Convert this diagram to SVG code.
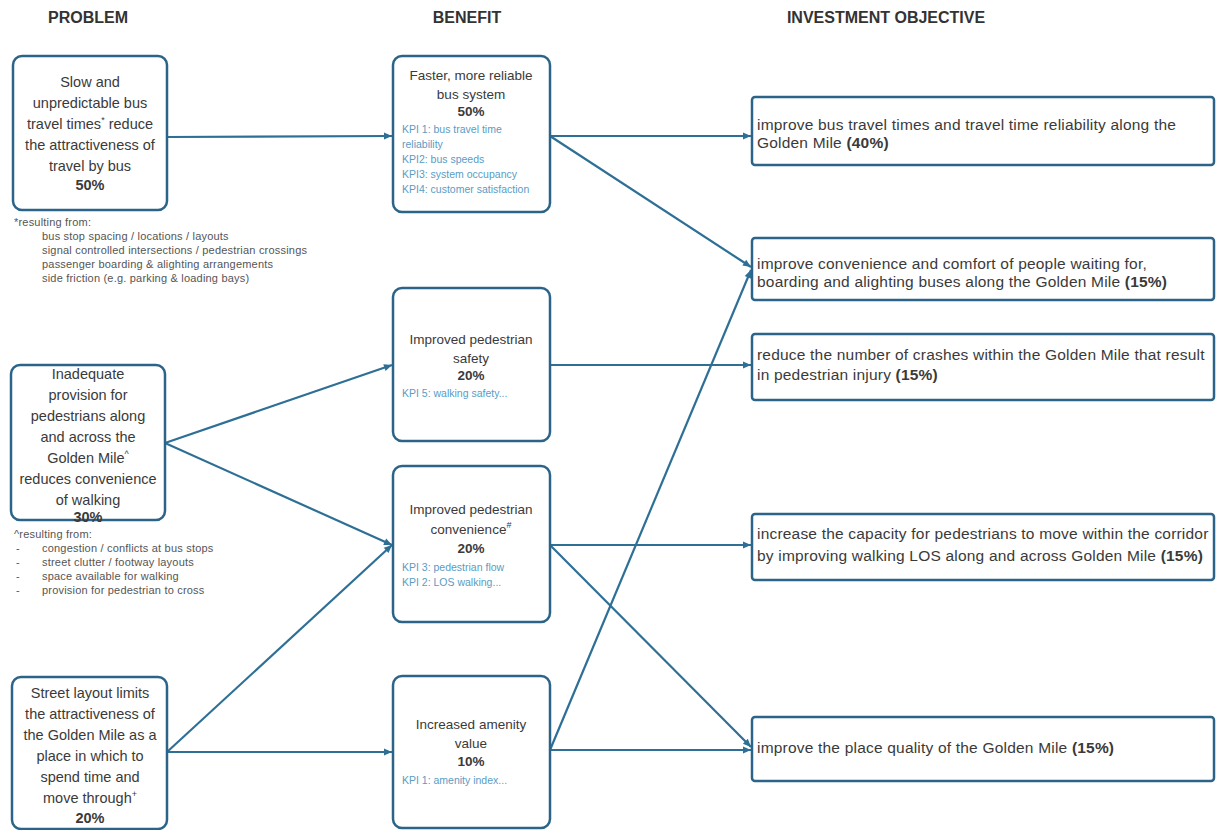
<svg xmlns="http://www.w3.org/2000/svg" width="1220" height="830" viewBox="0 0 1220 830">
<defs>
<marker id="ah" markerUnits="userSpaceOnUse" markerWidth="10" markerHeight="10" viewBox="0 0 10 10" refX="9" refY="5" orient="auto">
<path d="M1,1.5 L9,5 L1,8.5 Z" fill="#2e6f96"/>
</marker>
<style>
.hd{font-family:"Liberation Sans",Arial,sans-serif;font-weight:bold;font-size:16px;fill:#333;}
.box{fill:#fff;stroke:#2b6488;stroke-width:2.5;}
.t{font-family:"Liberation Sans",Arial,sans-serif;font-size:14.5px;fill:#3a3a3a;text-anchor:middle;}
.tb{font-family:"Liberation Sans",Arial,sans-serif;font-size:13.5px;fill:#3a3a3a;text-anchor:middle;}
.b{font-weight:bold;}
.k{font-family:"Liberation Sans",Arial,sans-serif;font-size:10.5px;fill:#5a9cc4;}
.fn{font-family:"Liberation Sans",Arial,sans-serif;font-size:11px;letter-spacing:0.2px;fill:#555;}
.o{font-family:"Liberation Sans",Arial,sans-serif;font-size:15.5px;letter-spacing:0.2px;fill:#3a3a3a;}
.c{fill:none;stroke:#2e6f96;stroke-width:2.2;marker-end:url(#ah);}
.sup{font-size:9px;}
</style>
</defs>
<rect width="1220" height="830" fill="#fff"/>

<g id="headers">
<text class="hd" x="88" y="23" text-anchor="middle">PROBLEM</text>
<text class="hd" x="467" y="23" text-anchor="middle">BENEFIT</text>
<text class="hd" x="886" y="23" text-anchor="middle">INVESTMENT OBJECTIVE</text>
</g>

<g id="connectors">
<line class="c" x1="167" y1="137" x2="392" y2="136"/>
<line class="c" x1="550" y1="136" x2="751" y2="136"/>
<line class="c" x1="550" y1="136" x2="751" y2="267"/>
<line class="c" x1="165" y1="443" x2="392" y2="365"/>
<line class="c" x1="165" y1="443" x2="392" y2="545"/>
<line class="c" x1="167" y1="752" x2="392" y2="545"/>
<line class="c" x1="167" y1="752" x2="392" y2="752"/>
<line class="c" x1="550" y1="365" x2="751" y2="365"/>
<line class="c" x1="550" y1="545" x2="751" y2="545"/>
<line class="c" x1="550" y1="545" x2="751" y2="747"/>
<line class="c" x1="550" y1="750" x2="751" y2="270"/>
<line class="c" x1="550" y1="750" x2="751" y2="750"/>
</g>

<g id="problem1">
<rect class="box" x="13" y="56" width="154" height="154" rx="9"/>
<text class="t" x="90" y="87">Slow and</text>
<text class="t" x="90" y="108">unpredictable bus</text>
<text class="t" x="90" y="129">travel times<tspan class="sup" dy="-6">*</tspan><tspan dy="6"> reduce</tspan></text>
<text class="t" x="90" y="150">the attractiveness of</text>
<text class="t" x="90" y="171">travel by bus</text>
<text class="t b" x="90" y="190">50%</text>
</g>
<g id="footnote1">
<text class="fn" x="14" y="226">*resulting from:</text>
<text class="fn" x="42" y="240">bus stop spacing / locations / layouts</text>
<text class="fn" x="42" y="254">signal controlled intersections / pedestrian crossings</text>
<text class="fn" x="42" y="268">passenger boarding &amp; alighting arrangements</text>
<text class="fn" x="42" y="282">side friction (e.g. parking &amp; loading bays)</text>
</g>

<g id="problem2">
<rect class="box" x="11" y="365" width="154" height="155" rx="9"/>
<text class="t" x="88" y="379">Inadequate</text>
<text class="t" x="88" y="400">provision for</text>
<text class="t" x="88" y="421">pedestrians along</text>
<text class="t" x="88" y="442">and across the</text>
<text class="t" x="88" y="463">Golden Mile<tspan class="sup" dy="-6">^</tspan></text>
<text class="t" x="88" y="484">reduces convenience</text>
<text class="t" x="88" y="505">of walking</text>
<text class="t b" x="88" y="522">30%</text>
</g>
<g id="footnote2">
<text class="fn" x="14" y="538">^resulting from:</text>
<text class="fn" x="16" y="552">-</text>
<text class="fn" x="42" y="552">congestion / conflicts at bus stops</text>
<text class="fn" x="16" y="566">-</text>
<text class="fn" x="42" y="566">street clutter / footway layouts</text>
<text class="fn" x="16" y="580">-</text>
<text class="fn" x="42" y="580">space available for walking</text>
<text class="fn" x="16" y="594">-</text>
<text class="fn" x="42" y="594">provision for pedestrian to cross</text>
</g>

<g id="problem3">
<rect class="box" x="12" y="677" width="155" height="152" rx="9"/>
<text class="t" x="90" y="698">Street layout limits</text>
<text class="t" x="90" y="719">the attractiveness of</text>
<text class="t" x="90" y="740">the Golden Mile as a</text>
<text class="t" x="90" y="761">place in which to</text>
<text class="t" x="90" y="782">spend time and</text>
<text class="t" x="90" y="803">move through<tspan class="sup" dy="-6">+</tspan></text>
<text class="t b" x="90" y="823">20%</text>
</g>

<g id="benefit1">
<rect class="box" x="393" y="56" width="157" height="156" rx="9"/>
<text class="tb" x="471" y="80">Faster, more reliable</text>
<text class="tb" x="471" y="99">bus system</text>
<text class="tb b" x="471" y="116">50%</text>
<text class="k" x="402" y="133">KPI 1: bus travel time</text>
<text class="k" x="402" y="148">reliability</text>
<text class="k" x="402" y="163">KPI2: bus speeds</text>
<text class="k" x="402" y="178">KPI3: system occupancy</text>
<text class="k" x="402" y="193">KPI4: customer satisfaction</text>
</g>

<g id="benefit2">
<rect class="box" x="393" y="288" width="157" height="153" rx="9"/>
<text class="tb" x="471" y="344">Improved pedestrian</text>
<text class="tb" x="471" y="363">safety</text>
<text class="tb b" x="471" y="380">20%</text>
<text class="k" x="402" y="397">KPI 5: walking safety...</text>
</g>

<g id="benefit3">
<rect class="box" x="393" y="466" width="157" height="156" rx="9"/>
<text class="tb" x="471" y="514">Improved pedestrian</text>
<text class="tb" x="471" y="534">convenience<tspan class="sup" dy="-6">#</tspan></text>
<text class="tb b" x="471" y="553">20%</text>
<text class="k" x="402" y="571">KPI 3: pedestrian flow</text>
<text class="k" x="402" y="586">KPI 2: LOS walking...</text>
</g>

<g id="benefit4">
<rect class="box" x="393" y="676" width="157" height="152" rx="9"/>
<text class="tb" x="471" y="729">Increased amenity</text>
<text class="tb" x="471" y="748">value</text>
<text class="tb b" x="471" y="766">10%</text>
<text class="k" x="402" y="784">KPI 1: amenity index...</text>
</g>

<g id="objective1">
<rect class="box" x="752" y="97" width="462" height="68" rx="3"/>
<text class="o" x="757" y="130">improve bus travel times and travel time reliability along the</text>
<text class="o" x="757" y="148">Golden Mile <tspan class="b">(40%)</tspan></text>
</g>
<g id="objective2">
<rect class="box" x="752" y="238" width="462" height="62" rx="3"/>
<text class="o" x="757" y="269">improve convenience and comfort of people waiting for,</text>
<text class="o" x="757" y="287">boarding and alighting buses along the Golden Mile <tspan class="b">(15%)</tspan></text>
</g>
<g id="objective3">
<rect class="box" x="752" y="334" width="462" height="66" rx="3"/>
<text class="o" x="757" y="360">reduce the number of crashes within the Golden Mile that result</text>
<text class="o" x="757" y="380">in pedestrian injury <tspan class="b">(15%)</tspan></text>
</g>
<g id="objective4">
<rect class="box" x="752" y="514" width="462" height="66" rx="3"/>
<text class="o" x="757" y="539">increase the capacity for pedestrians to move within the corridor</text>
<text class="o" x="757" y="561">by improving walking LOS along and across Golden Mile <tspan class="b">(15%)</tspan></text>
</g>
<g id="objective5">
<rect class="box" x="752" y="717" width="462" height="64" rx="3"/>
<text class="o" x="757" y="753">improve the place quality of the Golden Mile <tspan class="b">(15%)</tspan></text>
</g>
</svg>
